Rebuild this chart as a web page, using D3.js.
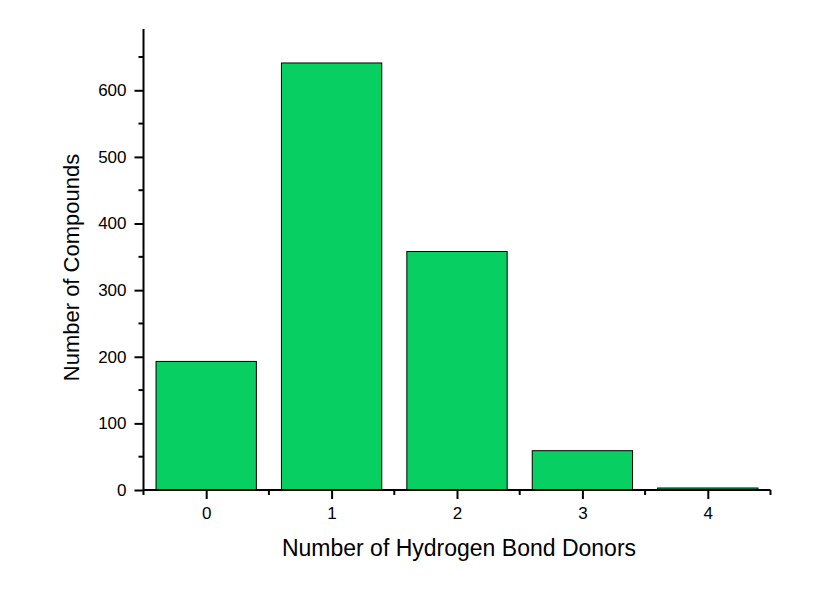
<!DOCTYPE html>
<html>
<head>
<meta charset="utf-8">
<script src="https://cdn.jsdelivr.net/npm/d3@7"></script>
<style>
  html, body { margin: 0; padding: 0; background: #fff; }
  svg { display: block; font-family: "Liberation Sans", Arial, sans-serif; }
  .axis text { font-size: 17px; font-family: "Liberation Sans", Arial, sans-serif; fill: #000; }
</style>
</head>
<body>
<svg id="chart" width="840" height="590"></svg>
<script>
const categories = [0, 1, 2, 3, 4];
const counts = [193, 641, 358, 59, 3];
const yTicks = [0, 100, 200, 300, 400, 500, 600];
const xLabel = "Number of Hydrogen Bond Donors";
const yLabel = "Number of Compounds";

const svg = d3.select("#chart");
const mLeft = 143.5, mRight = 770.5, mTop = 29, mBottom = 490;

const x = d3.scaleLinear().domain([-0.5, 4.5]).range([mLeft, mRight]);
const y = d3.scaleLinear().domain([0, 692]).range([mBottom, mTop]);
const barW = (x(1) - x(0)) * 0.8;

// bars
svg.append("g").selectAll("rect").data(categories).join("rect")
  .attr("x", (d) => x(d) - barW / 2)
  .attr("y", (d, i) => y(counts[i]))
  .attr("width", barW)
  .attr("height", (d, i) => y(0) - y(counts[i]))
  .attr("fill", "#08CF62")
  .attr("stroke", "#000")
  .attr("stroke-width", 1);

// x axis
const gx = svg.append("g").attr("class", "axis").attr("transform", `translate(0,${mBottom})`);
gx.call(d3.axisBottom(x).tickValues(categories).tickFormat(d3.format("d")).tickSize(9).tickPadding(8))
  .call(g => g.select(".domain").attr("stroke-width", 2).attr("d", `M${mLeft},0H${mRight}`));
gx.attr("font-size", 17).attr("font-family", "Liberation Sans, Arial, sans-serif");
gx.selectAll(".tick line").attr("stroke-width", 2);
gx.selectAll(".minor").data([-0.5, 0.5, 1.5, 2.5, 3.5, 4.5]).join("line")
  .attr("class", "minor")
  .attr("x1", d => x(d)).attr("x2", d => x(d))
  .attr("y1", 0).attr("y2", 5)
  .attr("stroke", "#000").attr("stroke-width", 2);

// y axis
const gy = svg.append("g").attr("class", "axis").attr("transform", `translate(${mLeft},0)`);
gy.call(d3.axisLeft(y).tickValues(yTicks).tickFormat(d3.format("d")).tickSize(9).tickPadding(8))
  .call(g => g.select(".domain").attr("stroke-width", 2).attr("d", `M0,${mTop}V${mBottom}`));
gy.attr("font-size", 17).attr("font-family", "Liberation Sans, Arial, sans-serif");
gy.selectAll(".tick line").attr("stroke-width", 2);
gy.selectAll(".minor").data([50, 150, 250, 350, 450, 550, 650]).join("line")
  .attr("class", "minor")
  .attr("x1", -5).attr("x2", 0)
  .attr("y1", d => y(d)).attr("y2", d => y(d))
  .attr("stroke", "#000").attr("stroke-width", 2);

// titles
svg.append("text")
  .attr("x", 459).attr("y", 556)
  .attr("text-anchor", "middle")
  .attr("font-size", 23).attr("fill", "#000")
  .text(xLabel);
svg.append("text")
  .attr("transform", `translate(78.5,267.5) rotate(-90)`)
  .attr("text-anchor", "middle")
  .attr("font-size", 22).attr("fill", "#000")
  .text(yLabel);
</script>
</body>
</html>
